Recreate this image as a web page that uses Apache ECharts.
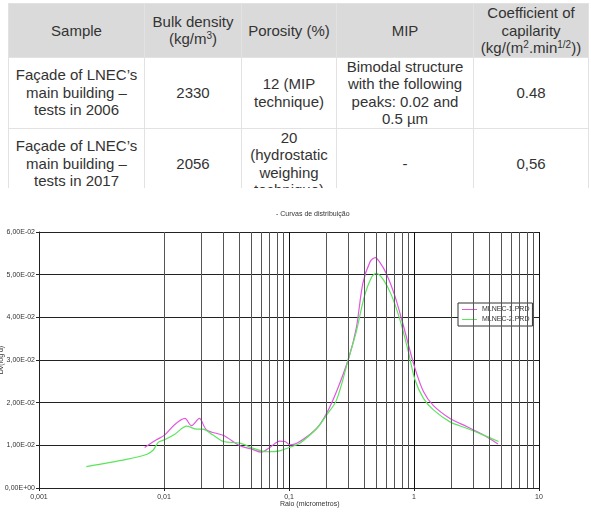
<!DOCTYPE html>
<html>
<head>
<meta charset="utf-8">
<script src="https://cdn.jsdelivr.net/npm/echarts@6/dist/echarts.min.js"></script>
<style>
  html, body { margin: 0; padding: 0; background: #fff; }
  #page { position: relative; width: 591px; height: 517px; overflow: hidden; }
  #tablebox { position: absolute; left: 0; top: 0; width: 591px; height: 188px; overflow: hidden; }
  table { position: absolute; left: 8px; top: 3px; border-collapse: collapse; table-layout: fixed;
    font-family: "Liberation Sans", Arial, sans-serif; font-size: 15px; line-height: 17.5px; color: #333; }
  td, th { border: 1px solid #e2e2e2; padding: 0; text-align: center; vertical-align: middle; font-weight: normal; }
  th { background: #dadada; height: 51px; }
  tr.r1 td { height: 68px; }
  tr.r2 td { height: 70px; }
  sup { font-size: 10px; line-height: 0; vertical-align: 5px; }
  #chart { position: absolute; left: 0; top: 188px; width: 591px; height: 329px; }
</style>
</head>
<body>
<div id="page">
  <div id="tablebox">
    <table>
      <colgroup>
        <col style="width:136px"><col style="width:97px"><col style="width:95px"><col style="width:137px"><col style="width:115px">
      </colgroup>
      <tr>
        <th>Sample</th>
        <th>Bulk density<br>(kg/m<sup>3</sup>)</th>
        <th>Porosity (%)</th>
        <th>MIP</th>
        <th>Coefficient of<br>capilarity<br>(kg/(m<sup>2</sup>.min<sup>1/2</sup>))</th>
      </tr>
      <tr class="r1">
        <td>Façade of LNEC’s<br>main building –<br>tests in 2006</td>
        <td>2330</td>
        <td>12 (MIP<br>technique)</td>
        <td>Bimodal structure<br>with the following<br>peaks: 0.02 and<br>0.5 µm</td>
        <td>0.48</td>
      </tr>
      <tr class="r2">
        <td>Façade of LNEC’s<br>main building –<br>tests in 2017</td>
        <td>2056</td>
        <td>20<br>(hydrostatic<br>weighing<br>technique)</td>
        <td>-</td>
        <td>0,56</td>
      </tr>
    </table>
  </div>
  <div id="chart"></div>
</div>
<script>
// MLNEC-1.PRD
var radius1 = [0.0070, 0.0087, 0.0101, 0.0122, 0.0147, 0.0166, 0.0192, 0.0219, 0.030, 0.0405, 0.0505, 0.0602, 0.0702, 0.0843, 0.0929, 0.102, 0.122, 0.167, 0.2, 0.24, 0.3, 0.345, 0.39, 0.445, 0.49, 0.53, 0.60, 0.70, 0.82, 1.0, 1.19, 1.43, 1.94, 2.64, 3.6, 4.7];
var value1 = [0.0095, 0.0113, 0.0124, 0.0149, 0.0163, 0.0146, 0.0163, 0.0136, 0.0123, 0.0099, 0.0091, 0.0084, 0.0095, 0.0110, 0.0109, 0.0101, 0.0109, 0.0140, 0.0175, 0.0226, 0.0304, 0.0374, 0.0480, 0.0530, 0.0540, 0.0530, 0.0503, 0.0452, 0.0382, 0.0288, 0.0226, 0.0193, 0.0163, 0.0144, 0.0124, 0.0103];
// MLNEC-2.PRD
var radius2 = [0.00239, 0.0050, 0.0073, 0.0082, 0.0090, 0.0101, 0.0122, 0.0152, 0.0183, 0.0204, 0.0247, 0.030, 0.0405, 0.0518, 0.066, 0.084, 0.1, 0.122, 0.167, 0.2, 0.24, 0.3, 0.345, 0.40, 0.46, 0.50, 0.57, 0.66, 0.78, 0.90, 1.02, 1.19, 1.43, 1.94, 2.64, 3.6, 4.75];
var value2 = [0.0050, 0.0067, 0.0079, 0.0089, 0.0107, 0.0113, 0.0126, 0.0145, 0.0138, 0.0138, 0.0124, 0.0109, 0.0105, 0.0093, 0.0085, 0.0087, 0.0095, 0.0105, 0.0140, 0.0171, 0.0206, 0.0304, 0.0366, 0.0448, 0.0495, 0.0503, 0.0488, 0.0452, 0.0390, 0.0320, 0.0253, 0.0210, 0.0183, 0.0155, 0.0140, 0.0124, 0.0109];

var seriesNames = ["MLNEC-1.PRD", "MLNEC-2.PRD"];
// minor log grid lines (2..9 in each decade)
var minorDigits = [2, 3, 4, 5, 6, 7, 8, 9];
var decades = [0.001, 0.01, 0.1, 1];

var minorLines = [];
decades.forEach(function (d) {
  minorDigits.forEach(function (m) {
    minorLines.push({ xAxis: +(m * d).toPrecision(3) });
  });
});

function pairs(xs, ys) {
  return xs.map(function (x, i) { return [x, ys[i]]; });
}

function sci(v) {
  if (v === 0) return "0,00E+00";
  var p = v.toExponential(2).split("e");
  var e = parseInt(p[1], 10);
  var ea = Math.abs(e);
  return p[0].replace(".", ",") + "E" + (e < 0 ? "-" : "+") + (ea < 10 ? "0" + ea : ea);
}

var myChart = echarts.init(document.getElementById("chart"));
var font = "Liberation Sans, Arial, sans-serif";

var option = {
  backgroundColor: "#fff",
  animation: false,
  title: {
    text: "- Curvas de distribuição",
    left: 271,
    top: 18,
    textStyle: { fontSize: 7, fontWeight: "normal", color: "#333", fontFamily: font }
  },
  legend: {
    data: seriesNames,
    orient: "vertical",
    left: 458,
    top: 115,
    backgroundColor: "#fff",
    borderColor: "#333",
    borderWidth: 1,
    borderRadius: 0,
    padding: [3, 3, 3, 4],
    itemGap: 3,
    itemWidth: 15,
    itemHeight: 1,
    icon: "rect",
    textStyle: { fontSize: 7, color: "#333", fontFamily: font }
  },
  grid: { left: 39, right: 52, top: 44, bottom: 29, containLabel: false, outerBoundsMode: "none" },
  xAxis: {
    type: "log",
    logBase: 10,
    min: 0.001,
    max: 10,
    axisLine: { show: true, lineStyle: { color: "#222", width: 1 } },
    axisTick: { show: true, length: 3, lineStyle: { color: "#222" } },
    axisLabel: {
      fontSize: 7, color: "#333", fontFamily: font, margin: 6,
      formatter: function (v) { return String(+v.toPrecision(3)).replace(".", ","); }
    },
    splitLine: { show: true, lineStyle: { color: "#111", width: 1 } }
  },
  yAxis: {
    type: "value",
    min: 0,
    max: 0.06,
    interval: 0.01,
    name: "Dv(log d)",
    nameLocation: "middle",
    nameGap: 34,
    nameMoveOverlap: false,
    nameTextStyle: { fontSize: 7, color: "#333", fontFamily: font },
    axisLine: { show: true, lineStyle: { color: "#222", width: 1 } },
    axisTick: { show: true, length: 3, lineStyle: { color: "#222" } },
    axisLabel: { fontSize: 7, color: "#333", fontFamily: font, margin: 4, formatter: sci },
    splitLine: { show: true, lineStyle: { color: "#222", width: 1 } }
  },
  graphic: [
    {
      type: "text",
      left: 280,
      top: 313,
      style: { text: "Raio (micrometros)", fontSize: 7, fill: "#333", fontFamily: font }
    }
  ],
  series: [
    {
      name: "grid",
      type: "line",
      data: [],
      silent: true,
      z: 1,
      markLine: {
        silent: true,
        symbol: ["none", "none"],
        label: { show: false },
        lineStyle: { color: "#555", width: 1, type: "solid" },
        emphasis: { disabled: true },
        data: minorLines
      }
    },
    {
      name: seriesNames[0],
      type: "line",
      data: pairs(radius1, value1),
      smooth: 0.3,
      showSymbol: false,
      z: 3,
      itemStyle: { color: "#e256e2" },
      lineStyle: { color: "#e256e2", width: 1.2 }
    },
    {
      name: seriesNames[1],
      type: "line",
      data: pairs(radius2, value2),
      smooth: 0.3,
      showSymbol: false,
      z: 3,
      itemStyle: { color: "#5ae65a" },
      lineStyle: { color: "#5ae65a", width: 1.2 }
    }
  ]
};

option && myChart.setOption(option);
</script>
</body>
</html>
